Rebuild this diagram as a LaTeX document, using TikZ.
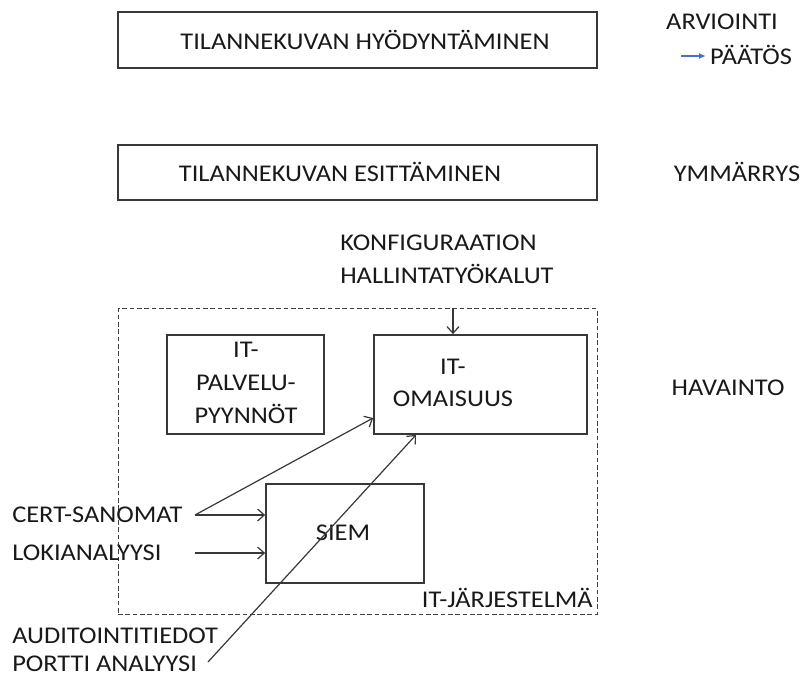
\documentclass[tikz,border=0pt]{standalone}
\usepackage{fontspec}
\setmainfont{Carlito}[FakeStretch=1.1]
\usetikzlibrary{arrows.meta,calc}
\begin{document}
\begin{tikzpicture}[x=0.75pt,y=-0.75pt,
  font=\fontsize{18}{24.5}\selectfont,
  txt/.style={inner sep=0pt,text=black!90},
  box/.style={draw=black!78,line width=1.3pt,inner sep=0pt},
  frame/.style={draw=black!75,line width=0.75pt,dash pattern=on 3.5pt off 2pt},
  arr/.style={draw=black!78,line width=0.9pt,-{Straight Barb[length=5pt,width=9pt]}},
  plain/.style={draw=black!78,line width=0.9pt}]
\useasboundingbox (0,0) rectangle (803,677);

% levels of the situational picture
\node[box,minimum width=359.25pt,minimum height=42pt] (use) at (357.5,40) {};
\node[txt] (useT) at (365,40) {TILANNEKUVAN HYÖDYNTÄMINEN};
\node[box,minimum width=359.25pt,minimum height=41.25pt] (show) at (357.5,172.5) {};
\node[txt] (showT) at (340,172) {TILANNEKUVAN ESITTÄMINEN};

% right-hand phase labels
\node[txt] (arv) at (722,22) {ARVIOINTI};
\node[txt] (paa) at (751,55) {PÄÄTÖS};
\coordinate (paaArrow) at (681,56);
\draw[draw={rgb,255:red,68;green,114;blue,196},line width=0.9pt,-{Latex[length=5pt,width=4.5pt]}] (paaArrow) -- ([xshift=-3pt]paa.west |- paaArrow);
\node[txt] (ymm) at (737,172) {YMMÄRRYS};
\node[txt] (hav) at (728,388) {HAVAINTO};

% configuration management tools
\node[txt,align=left,anchor=north west] (konf) at (340,235) {KONFIGURAATION\\HALLINTATYÖKALUT};

% IT system
\node[frame,minimum width=359.25pt,minimum height=228.75pt] (sys) at (357.5,461.5) {};
\node[txt,anchor=base east] (sysT) at (593,607) {IT-JÄRJESTELMÄ};

\node[box,minimum width=117.75pt,minimum height=74.25pt] (palv) at (245.5,384.5) {};
\node[txt,align=center] (palvT) at (246,383) {IT-\\PALVELU-\\PYYNNÖT};
\node[box,minimum width=159.75pt,minimum height=74.25pt] (oma) at (480.5,384.5) {};
\node[txt,align=center] (omaT) at (453,383) {IT-\\OMAISUUS};
\node[box,minimum width=118.5pt,minimum height=74.25pt] (siem) at (345,533.5) {};
\node[txt] (siemT) at (343,533) {SIEM};

\draw[arr] (sys.north -| 453,0) -- (oma.north -| 453,0);

% sources
\node[txt,anchor=west] (cert) at (12,515) {CERT-SANOMAT};
\node[txt,anchor=west] (loki) at (12,553) {LOKIANALYYSI};
\node[txt,anchor=west] (audit) at (12,636) {AUDITOINTITIEDOT};
\node[txt,anchor=west] (portti) at (12,664) {PORTTI ANALYYSI};

\coordinate (certOut) at (195,515);
\coordinate (lokiOut) at (195,553);
\coordinate (portOut) at (208,662);
\draw[arr] (certOut) -- (siem.west |- certOut);
\draw[arr] (certOut) -- (oma.west |- 0,418);
\draw[arr] (lokiOut) -- (siem.west |- lokiOut);
\draw[arr] (portOut) -- (oma.south -| 416,0);
\end{tikzpicture}
\end{document}
